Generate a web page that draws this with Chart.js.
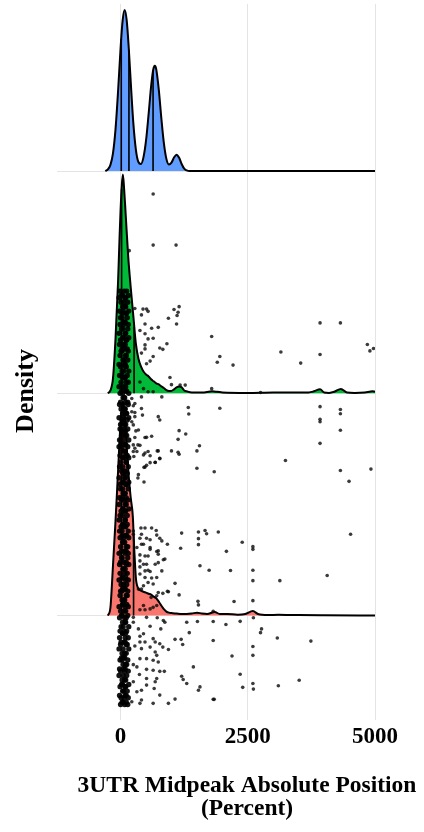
<!DOCTYPE html>
<html><head><meta charset="utf-8">
<script src="https://cdn.jsdelivr.net/npm/chart.js@4.4.1/dist/chart.umd.min.js"></script>
<style>html,body{margin:0;padding:0;background:#fff}#wrap{width:424px;height:832px}</style>
</head><body><div id="wrap"><canvas id="c" width="424" height="832"></canvas></div>
<script>
// ---------- DATA ----------
const xTicks = [0, 2500, 5000];
const xTitle = ['3UTR Midpeak Absolute Position', '(Percent)'];
const yTitle = 'Density';
const ridgeBaselines = [0, 1, 2];          // red, green, blue
const ridgeColors = ['#F8766D', '#00BA38', '#619CFF'];

// density ridges (height in units of ridge spacing)
const blueX = [-300,-250,-200,-150,-100,-50,0,40,80,120,160,200,250,300,350,400,450,500,550,600,640,672,700,750,800,850,900,950,1000,1050,1100,1150,1200,1250,1300,1350,5000];
const blueDensity = [0,0.008,0.028,0.080,0.188,0.358,0.555,0.678,0.725,0.678,0.555,0.398,0.217,0.097,0.041,0.032,0.063,0.138,0.255,0.382,0.455,0.474,0.459,0.368,0.240,0.127,0.055,0.030,0.038,0.061,0.074,0.060,0.032,0.011,0.003,0,0];

const greenX = [-250,-200,-150,-100,-50,-25,0,25,45,70,100,150,200,250,300,350,400,450,500,550,600,650,700,750,800,850,900,950,1000,1050,1100,1150,1200,1250,1300,1400,1600,1800,1900,2000,2500,3000,3500,3700,3800,3920,4000,4100,4200,4330,4450,4600,4800,4950,5000];
const greenDensity = [0,0.013,0.067,0.246,0.501,0.671,0.828,0.940,0.985,0.917,0.805,0.613,0.474,0.349,0.224,0.157,0.121,0.098,0.085,0.076,0.063,0.054,0.045,0.040,0.031,0.024,0.014,0.010,0.011,0.018,0.027,0.031,0.027,0.013,0.009,0.004,0.004,0.009,0.007,0.004,0.002,0.004,0.004,0.004,0.009,0.018,0.004,0.002,0.007,0.020,0.004,0.002,0.004,0.009,0.007];

const redX = [-250,-200,-150,-100,-50,0,40,80,120,160,200,240,270,300,340,400,450,500,550,600,650,700,750,800,850,900,950,1000,1100,1200,1300,1400,1500,1600,1700,1850,1950,2100,2300,2450,2600,2700,2900,3100,3500,4000,5000];
const redDensity = [0,0.036,0.224,0.425,0.649,0.872,0.962,0.895,0.761,0.626,0.528,0.447,0.291,0.170,0.125,0.112,0.107,0.103,0.098,0.094,0.085,0.078,0.063,0.045,0.029,0.018,0.013,0.011,0.009,0.007,0.007,0.009,0.013,0.009,0.007,0.016,0.007,0.007,0.004,0.007,0.020,0.007,0.002,0.004,0.002,0.001,0];

// quantile lines
const blueQuantX = [13, 164, 638];
const blueQuantH = [0.595, 0.545, 0.450];
const greenQuantX = [20, 265];
const greenQuantH = [0.920, 0.300];
const redQuantX = [20, 255];
const redQuantH = [0.920, 0.370];

// jittered points (x value, vertical position in ridge units)
const ptsUpperX = [640,640,1090,170,280,440,510,540,1050,1150,1130,1110,940,1100,410,480,610,740,380,480,540,640,910,480,480,770,830,1790,1950,1900,2210,640,580,510,410,970,1000,1170,1270,380,450,540,640,1790,3920,4320,3150,3540,3920,4850,4900,4970,2750];
const ptsUpperY = [1.897,1.667,1.667,1.642,1.382,1.379,1.379,1.369,1.377,1.390,1.365,1.350,1.338,1.312,1.353,1.312,1.293,1.297,1.283,1.268,1.245,1.248,1.223,1.218,1.200,1.204,1.198,1.256,1.166,1.140,1.127,1.166,1.145,1.133,1.181,1.071,1.039,1.037,1.037,1.051,1.021,1.007,1.007,1.021,1.317,1.317,1.186,1.136,1.175,1.220,1.191,1.202,1.004];

const ptsMidX = [220,410,810,1330,1340,1950,410,280,280,430,220,740,770,350,280,480,610,1150,1280,1130,380,320,450,540,740,580,1000,1130,1150,1500,1550,580,680,770,510,480,1500,1840,350,340,460,3920,4320,4320,3920,3920,4320,3920,3240,4320,4490,4920,
  250,280,220,250,300,510,250,340,280,250,720,260,480,770,680,460];
const ptsMidY = [0.977,0.984,0.984,0.936,0.907,0.933,0.932,0.954,0.895,0.902,0.917,0.895,0.880,0.835,0.801,0.801,0.807,0.832,0.817,0.793,0.766,0.738,0.723,0.738,0.741,0.719,0.741,0.735,0.726,0.741,0.764,0.688,0.689,0.706,0.676,0.668,0.663,0.647,0.634,0.619,0.601,0.940,0.927,0.908,0.883,0.872,0.834,0.775,0.698,0.653,0.604,0.659,
  0.944,0.914,0.872,0.858,0.831,0.802,0.768,0.768,0.753,0.738,0.741,0.716,0.731,0.708,0.690,0.667];

const ptsLowX = [4520,400,480,610,700,250,380,510,580,770,920,1200,1530,1660,1690,1920,1530,1530,1180,2390,2080,2600,2600,410,580,710,380,480,740,840,380,510,740,1560,1740,2160,2600,480,580,710,480,1070,1150,920,830,710,600,2600,3130,4060,450,350,1520,1530,2230,2600,380,480,640,710,1820,
  250,410,710,810,450,320,580,740,540,870,680,450,380,540,810,380,610,540,640,410,940,740,450,580];
const ptsLowY = [0.366,0.394,0.394,0.394,0.383,0.366,0.348,0.348,0.341,0.348,0.321,0.371,0.376,0.383,0.368,0.376,0.346,0.319,0.303,0.330,0.289,0.310,0.298,0.321,0.298,0.288,0.273,0.268,0.276,0.251,0.246,0.231,0.238,0.224,0.204,0.203,0.204,0.201,0.198,0.171,0.171,0.145,0.093,0.109,0.100,0.089,0.082,0.157,0.157,0.180,0.134,0.119,0.064,0.048,0.063,0.067,0.026,0.026,0.037,0.045,0.019,
  0.380,0.366,0.362,0.336,0.321,0.306,0.306,0.291,0.268,0.254,0.231,0.231,0.219,0.204,0.201,0.187,0.169,0.149,0.142,0.119,0.107,0.104,0.045,0.030];

const ptsBottomX = [250,510,720,840,870,1300,1510,1820,250,350,580,790,450,380,1350,1070,1190,1820,640,680,380,480,770,830,1220,280,580,940,410,680,710,510,380,640,740,250,320,1430,510,640,770,860,370,510,1200,1230,710,680,250,1300,1560,510,660,1530,410,320,770,1820,1070,410,640,940,380,220,2070,2350,2610,2770,2750,3080,3740,2600,2600,2190,2350,3510,3100,2600,2400,2610,1840];
const ptsBottomY = [-0.008,-0.008,-0.010,-0.022,-0.030,-0.030,-0.027,-0.027,-0.030,-0.060,-0.048,-0.060,-0.082,-0.093,-0.077,-0.107,-0.107,-0.112,-0.104,-0.119,-0.119,-0.119,-0.127,-0.142,-0.130,-0.137,-0.142,-0.153,-0.149,-0.164,-0.179,-0.194,-0.194,-0.201,-0.209,-0.221,-0.231,-0.231,-0.242,-0.246,-0.251,-0.251,-0.265,-0.283,-0.273,-0.288,-0.283,-0.298,-0.298,-0.306,-0.321,-0.313,-0.328,-0.336,-0.336,-0.343,-0.358,-0.377,-0.376,-0.380,-0.395,-0.395,-0.395,-0.388,-0.040,-0.026,-0.010,-0.060,-0.077,-0.101,-0.115,-0.139,-0.179,-0.182,-0.264,-0.291,-0.316,-0.306,-0.323,-0.331,-0.377];

// dense column of points near zero
const colY = [1.46,1.44,1.43,1.41,1.39,1.37,1.36,1.34,1.32,1.31,1.29,1.27,1.25,1.24,1.22,1.20,1.19,1.17,1.15,1.13,1.12,1.10,1.08,1.07,1.05,1.03,1.01,1.00,0.98,0.96,0.95,0.93,0.91,0.89,0.88,0.86,0.84,0.83,0.81,0.79,0.77,0.76,0.74,0.72,0.71,0.69,0.67,0.65,0.64,0.62,0.60,0.59,0.57,0.55,0.53,0.52,0.50,0.48,0.47,0.45,0.43,0.41,0.40,0.38,0.36,0.35,0.33,0.31,0.29,0.28,0.26,0.24,0.23,0.21,0.19,0.17,0.16,0.14,0.12,0.11,0.09,0.07,0.05,0.04,0.02,0.00,-0.01,-0.03,-0.05,-0.07,-0.08,-0.10,-0.12,-0.13,-0.15,-0.17,-0.19,-0.20,-0.22,-0.24,-0.25,-0.27,-0.29,-0.31,-0.32,-0.34,-0.36,-0.37,-0.39,-0.40];
const colXLeft = [-10,20,-30,10,40,-20,30,0,50,-10, 20,-30,40,0,-20,30,10,-10,50,-30, 0,30,-20,40,10,-30,20,-10,50,0, -20,10,40,-30,30,0,-10,50,20,-20, 10,-30,30,-10,40,0,-20,20,50,-30, 30,-10,0,50,-20,20,-30,40,10,-10, -30,40,10,-20,30,-10,50,0,20,-30, 20,0,-20,50,-10,30,-30,10,40,0, -10,30,50,-30,0,20,-20,40,10,-10, 40,-20,10,0,-30,30,20,-10,50,-20, 0,-30,30,20,-10,40,-20,10,50,0];
const colXMid = [70,40,100,60,90,50,110,30,80,60, 40,90,70,110,50,80,30,100,60,90, 100,60,30,80,110,50,90,40,70,100, 50,80,110,60,40,100,70,30,90,50, 80,30,60,100,70,110,40,90,50,80, 60,100,40,90,30,70,110,50,80,40, 90,50,80,30,100,60,40,110,70,90, 30,70,110,50,80,40,100,60,90,30, 110,60,40,90,70,30,80,100,50,70, 40,90,70,110,50,80,60,30,100,60, 80,50,100,40,90,60,110,70,30,80];
const colXRight = [120,150,90,140,100,160,110,130,90,150, 140,100,160,120,90,130,150,110,140,80, 110,160,130,90,150,100,120,160,80,140, 150,90,120,160,130,80,140,100,120,160, 100,140,90,130,160,110,150,80,130,100, 160,120,150,80,110,140,90,160,100,130, 90,130,100,150,120,160,80,140,110,150, 140,110,160,90,130,100,150,120,80,140, 130,80,120,150,100,140,110,90,160,120, 100,150,90,130,160,110,80,140,120,90, 150,120,80,160,100,130,90,150,110,140];

// ---------- BUILD ----------
function zip(xs, ys, base) { return xs.map((x, i) => ({x: x, y: (base || 0) + ys[i]})); }
function quantLines(xs, hs, base) {
  const out = [];
  xs.forEach((x, i) => { out.push({x: x, y: base}); out.push({x: x, y: base + hs[i]}); out.push({x: x, y: null}); });
  return out;
}
function ridge(xs, ds, base, color, order) {
  return {type: 'line', data: zip(xs, ds, base), fill: {value: base}, backgroundColor: color,
    borderColor: '#000', borderWidth: 2, pointRadius: 0, cubicInterpolationMode: 'monotone', order: order};
}
function qline(xs, hs, base, order) {
  return {type: 'line', data: quantLines(xs, hs, base), borderColor: '#000', borderWidth: 1.6,
    pointRadius: 0, fill: false, spanGaps: false, order: order};
}
function pts(xs, ys, r, col) {
  return {type: 'line', data: zip(xs, ys), showLine: false, pointRadius: r, pointBorderWidth: 0,
    pointBackgroundColor: col, pointBorderColor: 'rgba(0,0,0,0)', order: 0};
}
const dotColor = 'rgba(10,10,10,0.8)';
const colColor = 'rgba(0,0,0,0.92)';

const datasets = [
  pts(ptsUpperX, ptsUpperY, 1.8, dotColor),
  pts(ptsMidX, ptsMidY, 1.8, dotColor),
  pts(ptsLowX, ptsLowY, 1.8, dotColor),
  pts(ptsBottomX, ptsBottomY, 1.8, dotColor),
  pts(colXLeft, colY, 2.7, colColor),
  pts(colXMid, colY, 2.7, colColor),
  pts(colXRight, colY, 2.7, colColor),
  qline(redQuantX, redQuantH, ridgeBaselines[0], 1.5),
  ridge(redX, redDensity, ridgeBaselines[0], ridgeColors[0], 2),
  qline(greenQuantX, greenQuantH, ridgeBaselines[1], 2.5),
  ridge(greenX, greenDensity, ridgeBaselines[1], ridgeColors[1], 3),
  qline(blueQuantX, blueQuantH, ridgeBaselines[2], 3.5),
  ridge(blueX, blueDensity, ridgeBaselines[2], ridgeColors[2], 4)
];

const serif = '"Liberation Serif", "Times New Roman", serif';
const titlesPlugin = {
  id: 'titles',
  beforeDraw(chart) {
    const c = chart.ctx; c.save(); c.fillStyle = '#fff'; c.fillRect(0, 0, chart.width, chart.height); c.restore();
  },
  afterDraw(chart) {
    const c = chart.ctx; c.save();
    c.fillStyle = '#000'; c.textAlign = 'center'; c.textBaseline = 'alphabetic';
    c.font = 'bold 23.5px ' + serif;
    c.fillText(xTitle[0], 247, 792);
    c.fillText(xTitle[1], 247, 815);
    c.translate(33, 391); c.rotate(-Math.PI / 2);
    c.font = 'bold 26px ' + serif;
    c.fillText(yTitle, 0, 0);
    c.restore();
  }
};

new Chart(document.getElementById('c'), {
  type: 'line',
  data: {datasets: datasets},
  plugins: [titlesPlugin],
  options: {
    responsive: false, animation: false, devicePixelRatio: 1,
    layout: {padding: {left: 0, right: 49, top: 0, bottom: 0}},
    plugins: {legend: {display: false}, tooltip: {enabled: false}},
    scales: {
      x: {type: 'linear', min: -1250, max: 5000,
        afterBuildTicks: s => { s.ticks = xTicks.map(v => ({value: v})); },
        afterFit: s => { s.height = 112; },
        grid: {color: '#e4e4e4', lineWidth: 1, drawTicks: false},
        border: {display: false},
        ticks: {color: '#000', padding: 3, font: {family: serif, size: 23, weight: 'bold'}, callback: v => String(v), maxRotation: 0}
      },
      y: {type: 'linear', min: -0.47, max: 2.752,
        afterBuildTicks: s => { s.ticks = ridgeBaselines.map(v => ({value: v})); },
        afterFit: s => { s.width = 57; },
        grid: {color: '#e4e4e4', lineWidth: 1, drawTicks: false},
        border: {display: false},
        ticks: {display: false}
      }
    }
  }
});
</script></body></html>
